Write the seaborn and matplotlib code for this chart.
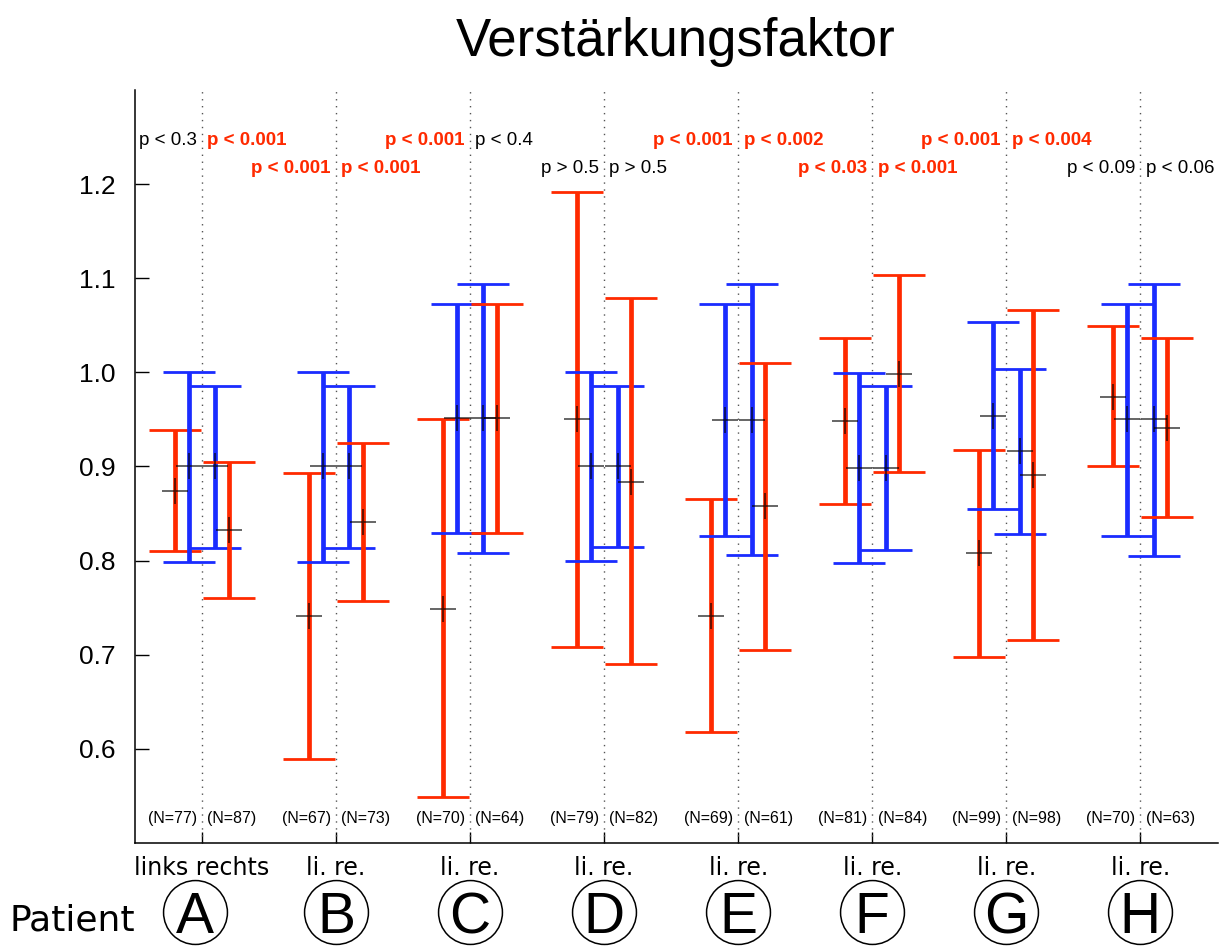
import numpy as np
import pandas as pd
import matplotlib
matplotlib.use("Agg")
import matplotlib.pyplot as plt
import seaborn as sns

# ---- data -------------------------------------------------------------
patients = ["A", "B", "C", "D", "E", "F", "G", "H"]

# red series, left ear (li.)
red_li_mean = [0.874, 0.741, 0.749, 0.950, 0.741, 0.948, 0.808, 0.974]
red_li_lo   = [0.810, 0.589, 0.549, 0.708, 0.618, 0.860, 0.698, 0.900]
red_li_hi   = [0.939, 0.893, 0.950, 1.192, 0.865, 1.037, 0.918, 1.049]
# blue series, left ear (li.)
blue_li_mean = [0.900, 0.900, 0.951, 0.900, 0.949, 0.898, 0.954, 0.950]
blue_li_lo   = [0.799, 0.799, 0.829, 0.800, 0.826, 0.797, 0.855, 0.826]
blue_li_hi   = [1.000, 1.000, 1.073, 1.000, 1.073, 0.999, 1.053, 1.073]
# blue series, right ear (re.)
blue_re_mean = [0.900, 0.900, 0.951, 0.900, 0.949, 0.898, 0.916, 0.950]
blue_re_lo   = [0.813, 0.813, 0.808, 0.814, 0.806, 0.811, 0.828, 0.805]
blue_re_hi   = [0.986, 0.986, 1.094, 0.986, 1.094, 0.985, 1.004, 1.094]
# red series, right ear (re.)
red_re_mean = [0.833, 0.841, 0.951, 0.884, 0.858, 0.998, 0.891, 0.941]
red_re_lo   = [0.760, 0.757, 0.829, 0.690, 0.705, 0.894, 0.716, 0.846]
red_re_hi   = [0.905, 0.925, 1.073, 1.079, 1.010, 1.103, 1.066, 1.036]

p_li = ["p < 0.3", "p < 0.001", "p < 0.001", "p > 0.5",
        "p < 0.001", "p < 0.03", "p < 0.001", "p < 0.09"]
p_re = ["p < 0.001", "p < 0.001", "p < 0.4", "p > 0.5",
        "p < 0.002", "p < 0.001", "p < 0.004", "p < 0.06"]
sig_li = [False, True, True, False, True, True, True, False]
sig_re = [True, True, False, False, True, True, True, False]

n_li = [77, 67, 70, 79, 69, 81, 99, 70]
n_re = [87, 73, 64, 82, 61, 84, 98, 63]

side_labels = ["links rechts"] + ["li. re."] * 7
yticks = [0.6, 0.7, 0.8, 0.9, 1.0, 1.1, 1.2]
ytick_labels = ["0.6", "0.7", "0.8", "0.9", "1.0", "1.1", "1.2"]

# ---- long table -------------------------------------------------------
RED = "#ff2a00"
BLUE = "#1a2cff"
series = [
    ("li", "red", -0.2, red_li_mean, red_li_lo, red_li_hi),
    ("li", "blue", -0.1, blue_li_mean, blue_li_lo, blue_li_hi),
    ("re", "blue", 0.1, blue_re_mean, blue_re_lo, blue_re_hi),
    ("re", "red", 0.2, red_re_mean, red_re_lo, red_re_hi),
]
rows = []
for side, col, off, m, lo, hi in series:
    for i, p in enumerate(patients):
        rows.append(dict(patient=p, side=side, colour=col,
                         x=i + 1 + off, mean=m[i], lo=lo[i], hi=hi[i]))
df = pd.DataFrame(rows)

# ---- figure -----------------------------------------------------------
sns.set_theme(style="ticks")
plt.rcParams["font.family"] = ["Liberation Sans", "DejaVu Sans"]
plt.rcParams.update({"text.color": "black", "axes.labelcolor": "black",
                     "xtick.color": "black", "ytick.color": "black"})

fig = plt.figure(figsize=(12.32, 9.47), dpi=100)
ax = fig.add_axes([135 / 1232, 1 - 843 / 947, (1218 - 135) / 1232, (843 - 90) / 947])

centers = np.arange(1, len(patients) + 1)
for c in centers:
    ax.axvline(c, color="#555555", lw=1.0, ls=(0, (1, 4)), zorder=1)

palette = {"red": RED, "blue": BLUE}
for (side, col), sub in df.groupby(["side", "colour"], sort=False):
    ax.errorbar(sub["x"], sub["mean"],
                yerr=[sub["mean"] - sub["lo"], sub["hi"] - sub["mean"]],
                fmt="none", ecolor=palette[col], elinewidth=3.4,
                capsize=19, capthick=2.0, zorder=2)

sns.scatterplot(data=df, x="x", y="mean", marker="+", color="black",
                s=330, linewidth=1.2, alpha=0.7, ax=ax, zorder=3,
                legend=False)

ax.set_xlim(0.5, 8.58)
ax.set_ylim(0.5, 1.3)
ax.set_yticks(yticks)
ax.set_yticklabels(ytick_labels, fontsize=19)
ax.set_xticks(centers)
ax.set_xticklabels([])
ax.set_xlabel("")
ax.set_ylabel("")
ax.tick_params(axis="y", direction="in", length=10, width=1.0, pad=14, colors="black")
ax.tick_params(axis="x", direction="in", length=8, width=1.0)
for s in ["top", "right"]:
    ax.spines[s].set_visible(False)
for s in ["left", "bottom"]:
    ax.spines[s].set_color("black")
    ax.spines[s].set_linewidth(1.1)

# p-values above the groups, alternating rows
for i, c in enumerate(centers):
    yrow = 1.246 if i % 2 == 0 else 1.217
    for txt, sig, ha, dx in [(p_li[i], sig_li[i], "right", -0.04),
                             (p_re[i], sig_re[i], "left", 0.04)]:
        ax.text(c + dx, yrow, txt, ha=ha, va="center", fontsize=13.5,
                color=RED if sig else "black",
                fontweight="bold" if sig else "normal")
    ax.text(c - 0.04, 0.526, f"(N={n_li[i]})", ha="right", va="center", fontsize=11.5)
    ax.text(c + 0.04, 0.526, f"(N={n_re[i]})", ha="left", va="center", fontsize=11.5)

# labels below the axis
trans = ax.get_xaxis_transform()
def yfrac(pix):
    return (843 - pix) / (843 - 90)

circle_shift = [-0.05] + [0.0] * 7
for i, c in enumerate(centers):
    ax.text(c, yfrac(875), side_labels[i], transform=trans, ha="center",
            va="baseline", fontsize=17, family="DejaVu Sans", clip_on=False)
    cx = c + circle_shift[i]
    ax.plot([cx], [yfrac(912)], transform=trans, marker="o", ms=46,
            mfc="none", mec="black", mew=1.1, clip_on=False)
    ax.text(cx, yfrac(933), patients[i], transform=trans, ha="center",
            va="baseline", fontsize=41, clip_on=False)

fig.text(10 / 1232, 1 - 930 / 947, "Patient", ha="left", va="baseline",
         fontsize=26, family="DejaVu Sans")
fig.text(676 / 1232, 1 - 56 / 947, "Verstärkungsfaktor", ha="center",
         va="baseline", fontsize=38)

fig.savefig("out.png", dpi=100)
